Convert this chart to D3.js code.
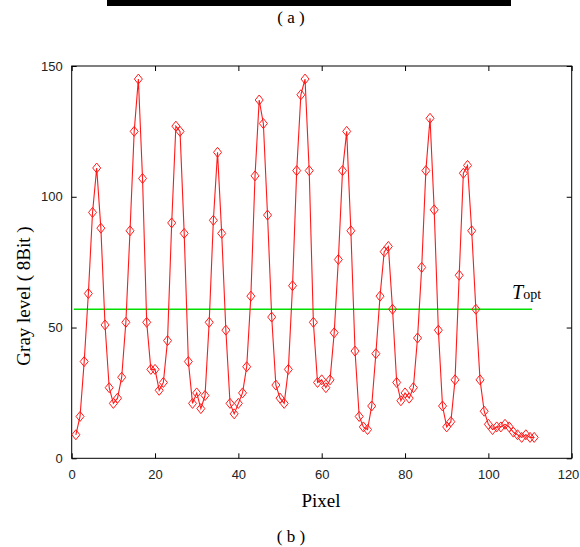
<!DOCTYPE html>
<html><head><meta charset="utf-8">
<script src="https://cdn.jsdelivr.net/npm/d3@7"></script>
<style>body{margin:0;background:#fff;} svg{display:block;}</style>
</head><body>
<svg id="c" width="580" height="547"></svg>
<script>
const pixels = d3.range(1, 112);
const grayLevels = [9,16,37,63,94,111,88,51,27,21,23,31,52,87,125,145,107,52,34,34,
26,29,45,90,127,125,86,37,21,25,19,24,52,91,117,86,49,21,17,21,
25,35,62,108,137,128,93,54,28,23,21,34,66,110,139,145,110,52,29,30,
27,30,48,76,110,125,87,41,16,12,11,20,40,62,79,81,57,29,22,25,
23,27,46,73,110,130,95,49,20,12,14,30,70,109,112,87,57,30,18,13,
11,12,12,13,12,10,9,8,9,8,8];
const threshold = 57;
const thresholdRange = [0.5, 110.5];
const xTicks = [0,20,40,60,80,100,120];
const yTicks = [0,50,100,150];

const svg = d3.select("#c");
const L=71.7, R=571.7, T=66, B=458.3;
const x = d3.scaleLinear().domain([0,120]).range([L,R]);
const y = d3.scaleLinear().domain([0,150]).range([B,T]);

// top black bar (a)
svg.append("rect").attr("x",107).attr("y",0).attr("width",404).attr("height",6).attr("fill","#000");
svg.append("text").attr("x",291).attr("y",23).attr("text-anchor","middle")
  .attr("font-family","Liberation Serif, serif").attr("font-size",17).text("( a )");

// axes box
svg.append("rect").attr("x",L).attr("y",T).attr("width",R-L).attr("height",B-T)
  .attr("fill","none").attr("stroke","#000").attr("stroke-width",1);

const tickLen = 5;
const g = svg.append("g");
const xb = g.append("g").attr("transform",`translate(0,${B})`)
  .call(d3.axisBottom(x).tickValues(xTicks).tickSize(-tickLen).tickPadding(6+tickLen));
const xt = g.append("g").attr("transform",`translate(0,${T})`)
  .call(d3.axisTop(x).tickValues(xTicks).tickSize(-tickLen).tickFormat(""));
const yl = g.append("g").attr("transform",`translate(${L},0)`)
  .call(d3.axisLeft(y).tickValues(yTicks).tickSize(-tickLen).tickPadding(4+tickLen));
const yr = g.append("g").attr("transform",`translate(${R},0)`)
  .call(d3.axisRight(y).tickValues(yTicks).tickSize(-tickLen).tickFormat(""));
[xb,xt,yl,yr].forEach(a=>{
  a.select(".domain").remove();
  a.selectAll("text").attr("font-family","Liberation Sans, Arial, sans-serif").attr("font-size",13).attr("fill","#222");
  a.selectAll("line").attr("stroke","#000");
});
// keep last x label inside the page
xb.selectAll(".tick text").filter(d=>d===120).attr("text-anchor","end").attr("dx","0.55em");

// threshold line
svg.append("line").attr("x1",x(thresholdRange[0])).attr("x2",x(thresholdRange[1]))
  .attr("y1",y(threshold)).attr("y2",y(threshold)).attr("stroke","#00e000").attr("stroke-width",1.3);
const tl = svg.append("text").attr("x",512).attr("y",299)
  .attr("font-family","Liberation Serif, serif");
tl.append("tspan").attr("font-style","italic").attr("font-size",20).text("T");
tl.append("tspan").attr("font-size",14).text("opt");

// data line
const pts = pixels.map((p,i)=>[p,grayLevels[i]]);
svg.append("path").datum(pts)
  .attr("d", d3.line().x(d=>x(d[0])).y(d=>y(d[1])))
  .attr("fill","none").attr("stroke","#ff1a1a").attr("stroke-width",1.1);
const s=5;
svg.append("g").selectAll("path").data(pts).join("path")
  .attr("d", d=>{const cx=x(d[0]), cy=y(d[1]);
    return `M${cx},${cy-s}L${cx+s*0.8},${cy}L${cx},${cy+s}L${cx-s*0.8},${cy}Z`;})
  .attr("fill","none").attr("stroke","#ff1a1a").attr("stroke-width",1);

// labels
svg.append("text").attr("x",321).attr("y",507).attr("text-anchor","middle")
  .attr("font-family","Liberation Serif, serif").attr("font-size",19).text("Pixel");
svg.append("text").attr("transform","translate(30,296) rotate(-90)").attr("text-anchor","middle")
  .attr("font-family","Liberation Serif, serif").attr("font-size",19).text("Gray level ( 8Bit )");
svg.append("text").attr("x",291).attr("y",542).attr("text-anchor","middle")
  .attr("font-family","Liberation Serif, serif").attr("font-size",17).text("( b )");
</script>
</body></html>
